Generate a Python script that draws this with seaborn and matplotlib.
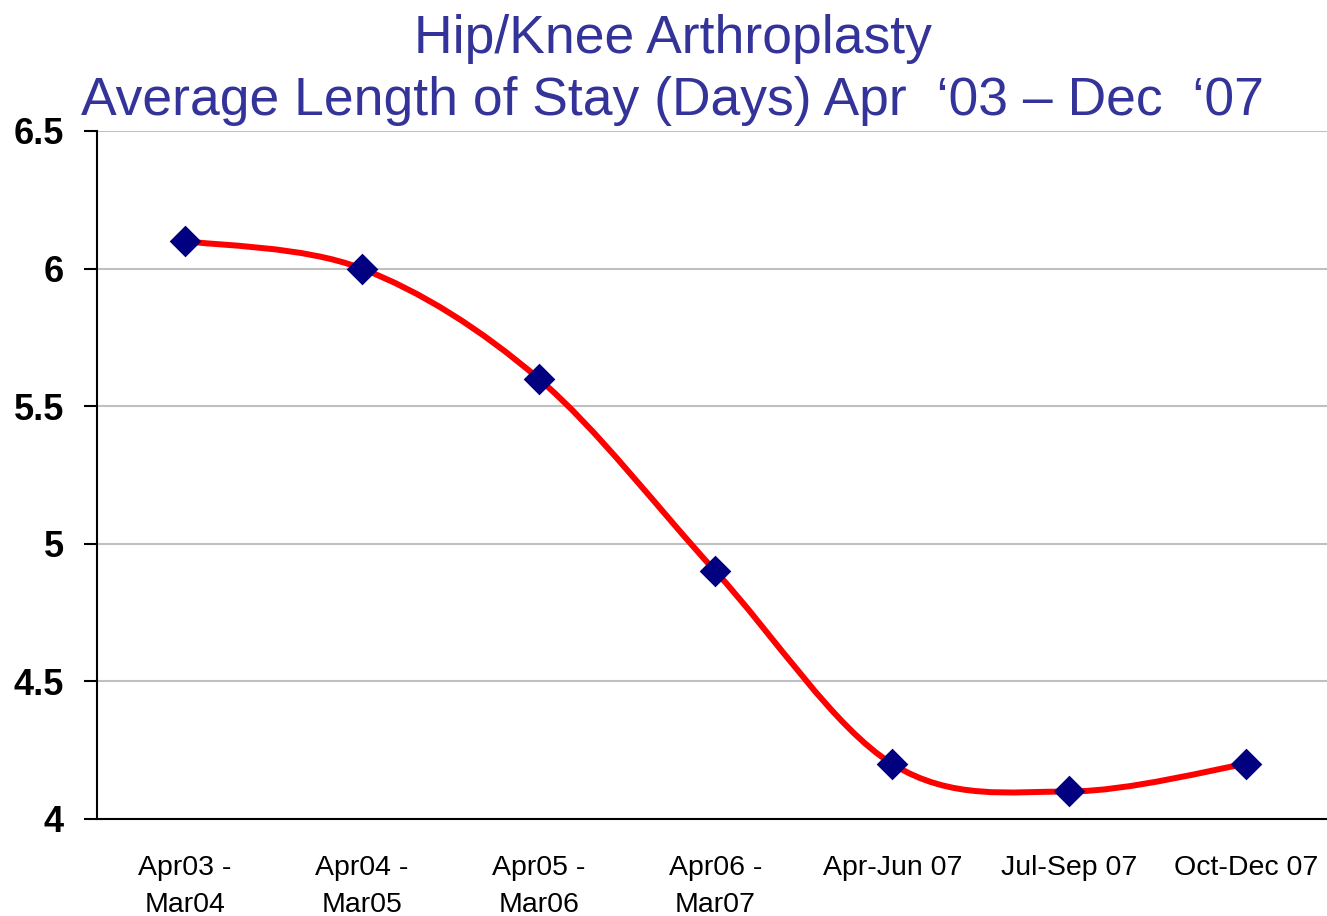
import numpy as np
import pandas as pd
import matplotlib
matplotlib.use("Agg")
import matplotlib.pyplot as plt
from matplotlib.path import Path
from matplotlib.patches import PathPatch
import seaborn as sns

periods = ["Apr03 -\nMar04", "Apr04 -\nMar05", "Apr05 -\nMar06", "Apr06 -\nMar07",
           "Apr-Jun 07", "Jul-Sep 07", "Oct-Dec 07"]
los_days = [6.1, 6.0, 5.6, 4.9, 4.2, 4.1, 4.2]
y_ticks = [4, 4.5, 5, 5.5, 6, 6.5]
y_tick_labels = ["4", "4.5", "5", "5.5", "6", "6.5"]

sns.set_style("white")
plt.rcParams["font.family"] = ["Liberation Sans", "DejaVu Sans"]

df = pd.DataFrame({"x": np.arange(len(periods)), "los": los_days})


def smooth_path(xs, ys):
    # excel-style smoothed line: catmull-rom as cubic bezier segments
    pts = np.column_stack([xs, ys]).astype(float)
    n = len(pts)
    verts = [pts[0]]
    codes = [Path.MOVETO]
    for i in range(n - 1):
        p0 = pts[max(i - 1, 0)]
        p1 = pts[i]
        p2 = pts[i + 1]
        p3 = pts[min(i + 2, n - 1)]
        verts += [p1 + (p2 - p0) / 6, p2 - (p3 - p1) / 6, p2]
        codes += [Path.CURVE4] * 3
    return Path(verts, codes)


fig = plt.figure(figsize=(13.27, 9.16), dpi=100)
ax = fig.add_axes([96.6 / 1327, 97 / 916, 1237.7 / 1327, 688 / 916])

ax.add_patch(PathPatch(smooth_path(df["x"], df["los"]), facecolor="none",
                       edgecolor="#ff0000", lw=4.3, zorder=3, capstyle="round"))
sns.scatterplot(data=df, x="x", y="los", marker="D", s=260, color="#000080",
                edgecolor="#000080", linewidth=0, zorder=4, ax=ax)

ax.set_xlim(-0.5, len(periods) - 0.5)
ax.set_ylim(4, 6.5)
ax.set_yticks(y_ticks)
ax.set_yticklabels(y_tick_labels, fontsize=26, fontweight="bold", color="black")
ax.set_xticks(df["x"])
ax.set_xticklabels(periods, fontsize=20.5, linespacing=1.55, va="top", color="black")
ax.set_xticks(np.arange(-0.5, len(periods)), minor=True)
ax.tick_params(axis="x", which="major", length=0, pad=26)
ax.tick_params(axis="x", which="minor", length=8, width=1.5, color="black", direction="out")
ax.tick_params(axis="y", which="major", length=9.4, width=1.5, color="black",
               direction="out", pad=14, left=True)
ax.set_xlabel("")
ax.set_ylabel("")

ax.grid(axis="y", color="#c0c0c0", lw=1.5)
ax.grid(axis="x", visible=False)
ax.set_axisbelow(True)
for side in ["top", "right"]:
    ax.spines[side].set_visible(False)
for side in ["left", "bottom"]:
    ax.spines[side].set_color("black")
    ax.spines[side].set_linewidth(1.5)
ax.spines["left"].set_zorder(5)
ax.spines["bottom"].set_zorder(5)

fig.text(0.507, 0.985, "Hip/Knee Arthroplasty", ha="center", va="top",
         fontsize=38.5, color="#333399")
fig.text(0.507, 0.917, "Average Length of Stay (Days) Apr  \u201803 \u2013 Dec  \u201807",
         ha="center", va="top", fontsize=38.5, color="#333399")

fig.savefig("out.png", dpi=100)
